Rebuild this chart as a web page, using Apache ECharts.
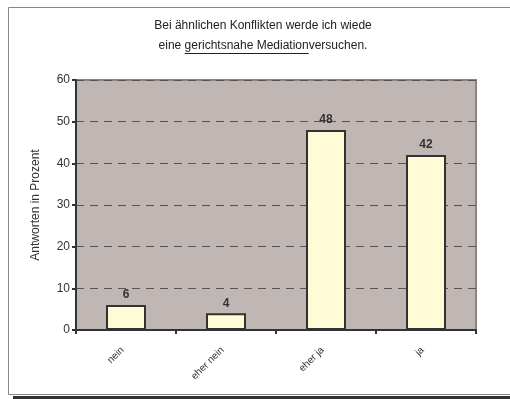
<!DOCTYPE html>
<html><head><meta charset="utf-8">
<script src="https://cdn.jsdelivr.net/npm/echarts@6/dist/echarts.min.js"></script>
<style>html,body{margin:0;padding:0;background:#fff}#c{width:510px;height:399px}</style>
</head><body><div id="c"></div>
<script>
var categories = ['nein', 'eher nein', 'eher ja', 'ja'];
var values = [6, 4, 48, 42];
var yTicks = [0, 10, 20, 30, 40, 50, 60];
var titleLine1 = 'Bei ähnlichen Konflikten werde ich wiede';
var titleLine2a = 'eine ';
var titleLine2b = 'gerichtsnahe Mediation';
var titleLine2c = 'versuchen.';
var yName = 'Antworten in Prozent';

var FONT = 'Liberation Sans, Arial, sans-serif';
var ctx = document.createElement('canvas').getContext('2d');
ctx.font = '12px ' + FONT;
var wa = ctx.measureText(titleLine2a).width, wb = ctx.measureText(titleLine2b).width, wc = ctx.measureText(titleLine2c).width;
var total = wa + wb + wc, x0 = 263 - total / 2, ly = 46;

var chart = echarts.init(document.getElementById('c'), null, {renderer: 'canvas'});
var option = {
  backgroundColor: '#fff',
  animation: false,
  grid: {left: 76, right: 34, top: 80, bottom: 69, show: true, backgroundColor: '#c0b6b3', borderColor: '#8c8280', borderWidth: 2},
  xAxis: {
    type: 'category', data: categories,
    axisLine: {lineStyle: {color: '#333', width: 2}},
    axisTick: {show: true, alignWithLabel: false, length: 4, lineStyle: {color: '#333', width: 2}},
    axisLabel: {rotate: 45, fontSize: 10, fontFamily: FONT, color: '#333', margin: 15, padding: [0, 5, 0, 0]}
  },
  yAxis: {
    type: 'value', min: yTicks[0], max: yTicks[yTicks.length - 1], interval: 10,
    name: yName, nameLocation: 'middle', nameGap: 34,
    nameTextStyle: {fontSize: 12, fontFamily: FONT, color: '#333'},
    axisLine: {show: true, lineStyle: {color: '#333', width: 2}},
    axisTick: {show: true, length: 4, lineStyle: {color: '#333', width: 2}},
    axisLabel: {fontSize: 12, fontFamily: FONT, color: '#333', margin: 6},
    splitLine: {show: true, lineStyle: {color: '#555', type: [8, 6], width: 1}}
  },
  series: [{
    type: 'bar', data: values, barWidth: '40%',
    itemStyle: {color: '#fffbd6', borderColor: '#333', borderWidth: 2},
    label: {show: true, position: 'top', distance: 4, fontWeight: 'bold', fontSize: 12, fontFamily: FONT, color: '#333'}
  }],
  graphic: {elements: [
    {type: 'polyline', silent: true, z: -10, shape: {points: [[520, 7.5], [8.5, 7.5], [8.5, 394.5], [520, 394.5]]}, style: {fill: null, stroke: '#888', lineWidth: 1}},
    {type: 'rect', silent: true, z: -10, shape: {x: 13, y: 396, width: 497, height: 3}, style: {fill: '#333'}},
    {type: 'text', silent: true, style: {text: titleLine1, x: 263, y: 26, align: 'center', verticalAlign: 'middle', font: '12px ' + FONT, fill: '#222'}},
    {type: 'text', silent: true, style: {text: titleLine2a, x: x0, y: ly, verticalAlign: 'middle', font: '12px ' + FONT, fill: '#222'}},
    {type: 'text', silent: true, style: {text: titleLine2b, x: x0 + wa, y: ly, verticalAlign: 'middle', font: '12px ' + FONT, fill: '#222'}},
    {type: 'line', silent: true, shape: {x1: x0 + wa, y1: ly + 7.5, x2: x0 + wa + wb, y2: ly + 7.5}, style: {stroke: '#222', lineWidth: 1}},
    {type: 'text', silent: true, style: {text: titleLine2c, x: x0 + wa + wb, y: ly, verticalAlign: 'middle', font: '12px ' + FONT, fill: '#222'}}
  ]}
};
chart.setOption(option);
</script></body></html>
